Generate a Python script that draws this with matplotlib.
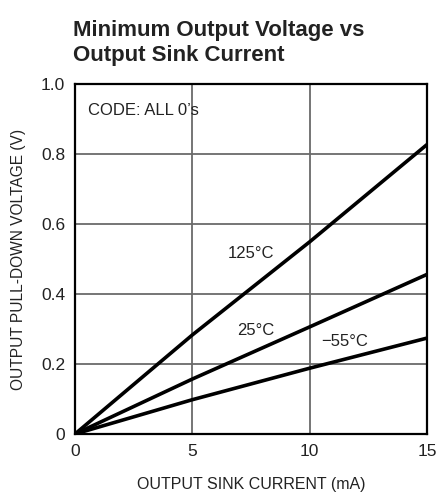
import matplotlib
matplotlib.use("Agg")
import matplotlib.pyplot as plt

# data
current_ma = [0, 5, 10, 15]
v_125c = [0, 0.283, 0.549, 0.827]
v_25c = [0, 0.157, 0.306, 0.456]
v_m55c = [0, 0.098, 0.188, 0.274]

x_ticks = [0, 5, 10, 15]
x_tick_labels = ["0", "5", "10", "15"]
y_ticks = [0, 0.2, 0.4, 0.6, 0.8, 1.0]
y_tick_labels = ["0", "0.2", "0.4", "0.6", "0.8", "1.0"]

plt.rcParams["font.family"] = ["Liberation Sans", "DejaVu Sans"]

W, H = 437, 493
fig = plt.figure(figsize=(W / 100, H / 100), dpi=100)
ax = fig.add_axes([75 / W, 1 - 434 / H, 352 / W, 350 / H])

for v in (v_125c, v_25c, v_m55c):
    ax.plot(current_ma, v, color="black", lw=2.6, solid_capstyle="butt", zorder=3)

ax.set_xlim(0, 15)
ax.set_ylim(0, 1.0)
ax.set_xticks(x_ticks)
ax.set_xticklabels(x_tick_labels)
ax.set_yticks(y_ticks)
ax.set_yticklabels(y_tick_labels)
ax.tick_params(length=0, labelsize=12.5, pad=7, colors="#222222")
ax.grid(True, color="#6a6a6a", lw=1.3)
for s in ax.spines.values():
    s.set_linewidth(1.6)
    s.set_color("black")

ax.set_xlabel("OUTPUT SINK CURRENT (mA)", fontsize=11.5, labelpad=13, color="#222222")
ax.set_ylabel("OUTPUT PULL-DOWN VOLTAGE (V)", fontsize=11.2, labelpad=11, color="#222222")

ax.text(0.55, 0.925, "CODE: ALL 0\u2019s", fontsize=12, va="center", ha="left", color="#222222")
ax.text(7.5, 0.517, "125°C", fontsize=12, ha="center", va="center", color="#222222")
ax.text(7.7, 0.297, "25°C", fontsize=12, ha="center", va="center", color="#222222")
ax.text(11.5, 0.264, "\u221255°C", fontsize=12, ha="center", va="center", color="#222222")

fig.text(73 / W, 1 - 43 / H, "Minimum Output Voltage vs\nOutput Sink Current",
         fontsize=16, fontweight="bold", ha="left", va="center", linespacing=1.25,
         color="#222222")

fig.savefig("out.png", dpi=100)
